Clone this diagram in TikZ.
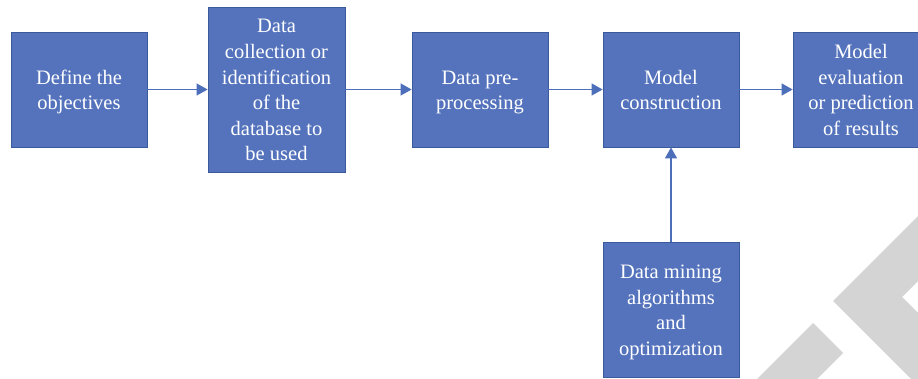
\documentclass[tikz,border=0pt]{standalone}
\usepackage{fontspec}
\setmainfont{Liberation Serif}
\usetikzlibrary{arrows.meta}

\definecolor{boxfill}{HTML}{5473BC}
\definecolor{boxline}{HTML}{3B5A9C}
\definecolor{linkblue}{HTML}{4D6FBA}
\definecolor{markgrey}{HTML}{D4D4D4}

\tikzset{
  stepbox/.style={draw=boxline, line width=0.8pt, fill=boxfill, text=white,
    align=center, inner sep=0pt, minimum width=136, minimum height=115,
    text height=42.6pt, text depth=2pt,
    font=\rmfamily\fontsize{20.5}{25.6}\selectfont},
  link/.style={draw=linkblue, line width=1.3pt,
    -{Triangle[length=11pt, width=12pt]}},
}

\begin{document}
\begin{tikzpicture}[x=1pt, y=-1pt]
  \useasboundingbox (0,0) rectangle (918,379);
  \clip (0,0) rectangle (918,379);

  % grey corner mark
  \fill[markgrey] (833,301) -- (918,216) -- (918,281) -- (902,297)
                  -- (918,313) -- (918,379) -- (911,379) -- cycle;
  \fill[markgrey] (813,323) -- (843,353) -- (817,379) -- (757,379) -- cycle;

  % process steps
  \node[stepbox] (b1) at (79,89.5) {Define the\\objectives};
  \node[stepbox, minimum width=137, minimum height=165, text height=145pt]
    (b2) at (276.5,89.5)
    {Data\\collection or\\identification\\of the\\database to\\be used};
  \node[stepbox] (b3) at (480,89.5) {Data pre-\\processing};
  \node[stepbox] (b4) at (671,89.5) {Model\\construction};
  \node[stepbox, text height=93.8pt] (b5) at (861,89.5)
    {Model\\evaluation\\or prediction\\of results};
  \node[stepbox, minimum height=135, text height=93.8pt] (b6) at (671,309.5)
    {Data mining\\algorithms\\and\\optimization};

  % flow
  \draw[link] (b1) -- (b2);
  \draw[link] (b2) -- (b3);
  \draw[link] (b3) -- (b4);
  \draw[link] (b4) -- (b5);
  \draw[link] (b6) -- (b4);
\end{tikzpicture}
\end{document}
